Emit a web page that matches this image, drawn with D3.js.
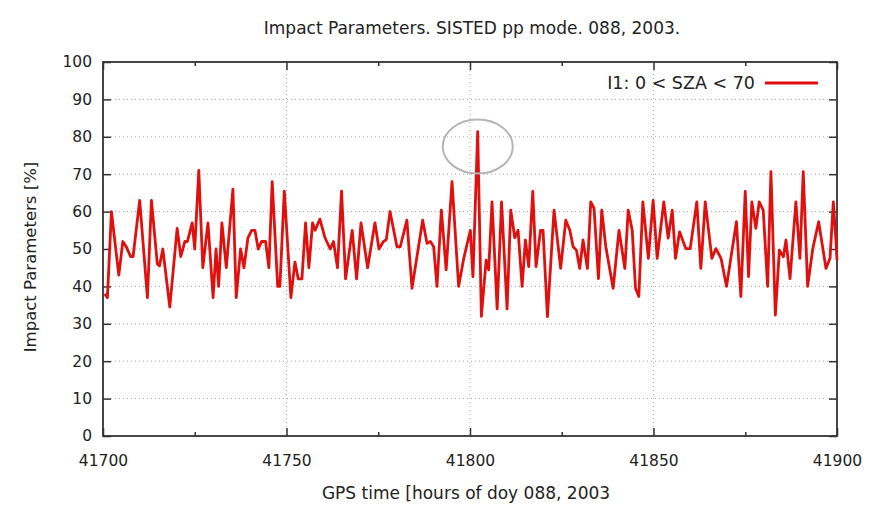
<!DOCTYPE html>
<html>
<head>
<meta charset="utf-8">
<script src="https://cdn.jsdelivr.net/npm/d3@7"></script>
<style>
  body { margin: 0; background: #fff; }
  text { font-family: "DejaVu Sans", sans-serif; fill: #222; }
</style>
</head>
<body>
<div id="chart"></div>
<script>
// data: hours after 41700 and impact parameter in %
var hours = [0.5, 1.2, 2.3, 4.3, 5.4, 6.4, 7.5, 8.2, 10, 12.1, 13.2, 14.8, 15.4, 16.3, 18.2, 20.2, 21.2, 22.3, 23, 24.3,
  25, 26.1, 27.2, 28.6, 30, 30.8, 31.5, 32.4, 33.6, 35.4, 36.3, 37.5, 38.4, 39.5,
  40.5, 41.4, 42.3, 43.2, 44.3, 45.2, 46.1, 47.6, 48.2, 49.4, 51.2, 52.3, 53.2, 54.2, 55.2, 56.1, 57.1, 57.8, 59.1,
  60.5, 61.9, 62.8, 63.9, 65, 66.1, 67.9, 69.1, 70.3, 72.1, 74.1, 75.2, 76.4, 77.2, 78.2,
  80.1, 81, 82.8, 84.2, 87.1, 88.3, 89.2, 90.1, 91, 92.2, 93.5, 95.1, 96.9, 98.3, 100.1, 100.8, 102.1, 103.1,
  104.4, 105.1, 106, 107.4, 108.6, 110.1, 111.1, 112.2, 113.1, 114.2, 115.1, 116, 117.1, 118,
  119.2, 119.9, 121.1, 122.9, 124.7, 126.1, 127.2, 128.1, 129, 129.9, 130.8, 132, 132.9, 133.8, 135, 135.9, 137,
  139, 140.6, 142.2, 143.1, 144.2, 145.1, 146, 147.1, 148.6, 149.9, 151, 152.8, 154, 155.1, 156, 157.1, 158.8,
  160, 161.8, 162.9, 164.1, 165.9, 167, 168.4, 169.9, 172.6, 173.8, 175, 175.9, 176.8, 177.9, 178.8, 179.9,
  181.1, 182, 183.2, 184.3, 185.4, 186.1, 187.2, 188.8, 189.9, 190.8, 192, 193.4, 195, 197, 198.1, 199, 199.7, 200];
var impact = [38, 37, 60, 43, 52, 50.5, 48, 48, 63, 37, 63, 46, 45.5, 50, 34.5, 55.5, 48, 52, 52, 57,
  50, 71, 45, 57, 37, 50, 40, 57, 45, 66, 37, 50, 45, 53,
  55, 55, 50, 52, 52, 45, 68, 40, 40, 65.5, 37, 46.5, 42, 42, 57, 45, 57, 55, 58,
  53, 50, 52, 45, 65.5, 42, 55, 42, 57, 45, 57, 50, 52, 52.5, 60,
  50.6, 50.6, 57.7, 39.5, 57.7, 51.5, 52, 50.6, 40, 60.4, 44.4, 68, 40, 47.5, 55, 42.6, 81.4, 32,
  47, 44.4, 62.6, 34, 62.6, 34, 60.4, 53, 55, 40, 52.4, 45.3, 65.4, 45.3,
  55, 55, 31.9, 60.4, 44.8, 57.7, 55, 50.6, 49.7, 44.8, 52.4, 44.8, 62.6, 60.9, 42.1, 60.4, 50.6,
  39.5, 55, 44.8, 60.4, 55, 39.5, 37.3, 62.6, 47.5, 63, 47.5, 62.6, 52.9, 60.4, 47.5, 54.6, 50.1,
  50.1, 62.6, 44.8, 62.6, 47.5, 50.1, 47.5, 40, 57.3, 37.3, 65.4, 42.6, 62.6, 55.5, 62.6, 60.4,
  40, 70.7, 32.3, 49.7, 47.9, 52.4, 42.1, 62.6, 47.5, 70.7, 40, 50.1, 57.3, 44.8, 47.5, 62.6, 52.4, 47];

var xTicks = [41700, 41750, 41800, 41850, 41900];
var xMinor = [41725, 41775, 41825, 41875];
var yTicks = [0, 10, 20, 30, 40, 50, 60, 70, 80, 90, 100];
var seriesName = "I1: 0 < SZA < 70";

var data = hours.map(function(h, i) { return {t: 41700 + h, v: impact[i]}; });

// set the dimensions and margins of the graph
var margin = {top: 62, right: 33, bottom: 69, left: 103},
    width = 870 - margin.left - margin.right,
    height = 505 - margin.top - margin.bottom;

var x = d3.scaleLinear().domain([41700, 41900]).range([0, width]);
var y = d3.scaleLinear().domain([0, 100]).range([height, 0]);

var root = d3.select("#chart").append("svg")
    .attr("width", 870)
    .attr("height", 505);

var svg = root.append("g")
    .attr("transform", "translate(" + margin.left + "," + margin.top + ")");

// dotted grid
svg.append("g")
    .selectAll("line")
    .data(yTicks.slice(1, -1))
  .enter().append("line")
    .attr("x1", 0).attr("x2", width)
    .attr("y1", function(d) { return y(d); })
    .attr("y2", function(d) { return y(d); })
    .style("stroke", "#aaa")
    .style("stroke-width", 1)
    .style("stroke-dasharray", "1,3");

svg.append("g")
    .selectAll("line")
    .data(xTicks.slice(1, -1))
  .enter().append("line")
    .attr("y1", 0).attr("y2", height)
    .attr("x1", function(d) { return x(d); })
    .attr("x2", function(d) { return x(d); })
    .style("stroke", "#aaa")
    .style("stroke-width", 1)
    .style("stroke-dasharray", "1,3");

// axes, gnuplot style: ticks pointing in, mirrored
var bottomAxis = svg.append("g")
    .attr("transform", "translate(0," + height + ")")
    .call(d3.axisBottom(x).tickValues(xTicks).tickFormat(d3.format("d")).tickSizeInner(-8).tickSizeOuter(0).tickPadding(19));
bottomAxis.selectAll("text").style("font-size", "15.5px");

svg.append("g")
    .attr("transform", "translate(0," + height + ")")
    .call(d3.axisBottom(x).tickValues(xMinor).tickFormat("").tickSizeInner(-4).tickSizeOuter(0));

svg.append("g")
    .call(d3.axisTop(x).tickValues(xTicks).tickFormat("").tickSizeInner(-8).tickSizeOuter(0));
svg.append("g")
    .call(d3.axisTop(x).tickValues(xMinor).tickFormat("").tickSizeInner(-4).tickSizeOuter(0));

var leftAxis = svg.append("g")
    .call(d3.axisLeft(y).tickValues(yTicks).tickSizeInner(-8).tickSizeOuter(0).tickPadding(11));
leftAxis.selectAll("text").style("font-size", "15.5px");

svg.append("g")
    .attr("transform", "translate(" + width + ",0)")
    .call(d3.axisRight(y).tickValues(yTicks).tickFormat("").tickSizeInner(-8).tickSizeOuter(0));

svg.selectAll(".domain").remove();
svg.selectAll(".tick line").style("stroke", "#333").style("stroke-width", 1.5);

// frame
svg.append("rect")
    .attr("width", width)
    .attr("height", height)
    .style("fill", "none")
    .style("stroke", "#333")
    .style("stroke-width", 1.8);

// the series
var line = d3.line()
    .x(function(d) { return x(d.t); })
    .y(function(d) { return y(d.v); });

svg.append("path")
    .datum(data)
    .attr("d", line)
    .style("fill", "none")
    .style("stroke", "#e0100e")
    .style("stroke-width", 2.8)
    .style("stroke-linejoin", "round");

// grey ring round the spike
var spike = data[d3.maxIndex(data, function(d) { return d.v; })];
svg.append("ellipse")
    .attr("cx", x(spike.t))
    .attr("cy", y(spike.v) + 15)
    .attr("rx", 35)
    .attr("ry", 27)
    .style("fill", "none")
    .style("stroke", "#b5b5b5")
    .style("stroke-width", 2);

// legend
svg.append("text")
    .attr("x", width - 82)
    .attr("y", 27)
    .attr("text-anchor", "end")
    .style("font-size", "17.5px")
    .text(seriesName);
svg.append("line")
    .attr("x1", width - 72).attr("x2", width - 19)
    .attr("y1", 21).attr("y2", 21)
    .style("stroke", "#e0100e")
    .style("stroke-width", 2.8);

// title and axis labels
root.append("text")
    .attr("x", 472)
    .attr("y", 34)
    .attr("text-anchor", "middle")
    .style("font-size", "17px")
    .text("Impact Parameters. SISTED pp mode. 088, 2003.");

root.append("text")
    .attr("x", 466)
    .attr("y", 499)
    .attr("text-anchor", "middle")
    .style("font-size", "17px")
    .text("GPS time [hours of doy 088, 2003");

root.append("text")
    .attr("transform", "translate(36," + (margin.top + height / 2 + 8) + ") rotate(-90)")
    .attr("text-anchor", "middle")
    .style("font-size", "16.5px")
    .text("Impact Parameters [%]");
</script>
</body>
</html>
